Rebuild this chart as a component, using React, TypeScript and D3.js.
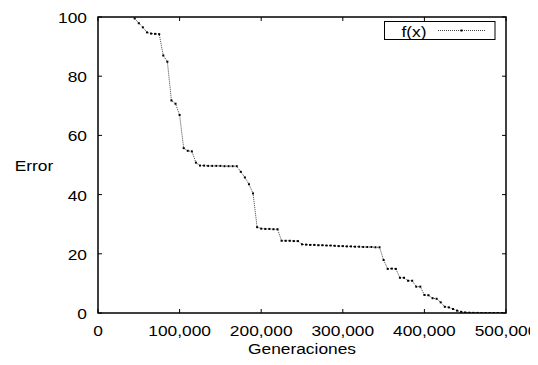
import React, { useEffect, useRef } from 'react';
import * as d3 from 'd3';

// generaciones (eje x), muestreadas cada 5,000
const generations = [
  0, 5000, 10000, 15000, 20000, 25000, 30000, 35000, 40000, 45000,
  50000, 55000, 60000, 65000, 70000, 75000, 80000, 85000, 90000, 95000,
  100000, 105000, 110000, 115000, 120000, 125000, 130000, 135000, 140000, 145000,
  150000, 155000, 160000, 165000, 170000, 175000, 180000, 185000, 190000, 195000,
  200000, 205000, 210000, 215000, 220000, 225000, 230000, 235000, 240000, 245000,
  250000, 255000, 260000, 265000, 270000, 275000, 280000, 285000, 290000, 295000,
  300000, 305000, 310000, 315000, 320000, 325000, 330000, 335000, 340000, 345000,
  350000, 355000, 360000, 365000, 370000, 375000, 380000, 385000, 390000, 395000,
  400000, 405000, 410000, 415000, 420000, 425000, 430000, 435000, 440000, 445000,
  450000, 455000, 460000, 465000, 470000, 475000, 480000, 485000, 490000, 495000,
  500000,
];

// error f(x) en cada generacion
const errors = [
  135, 128, 122, 117, 113, 110, 107, 104.5, 101.5, 99.5,
  97.9, 96.5, 94.8, 94.4, 94.3, 94.2, 87, 84.9, 71.8, 70.7,
  66.9, 55.7, 54.8, 54.6, 50.8, 49.8, 49.8, 49.7, 49.7, 49.7,
  49.7, 49.6, 49.6, 49.6, 49.6, 47.7, 45.8, 43.5, 40.4, 29,
  28.5, 28.4, 28.4, 28.3, 28.3, 24.4, 24.4, 24.4, 24.3, 24.3,
  23.2, 23.1, 23.0, 23.0, 22.9, 22.9, 22.8, 22.8, 22.7, 22.6,
  22.6, 22.5, 22.5, 22.4, 22.4, 22.3, 22.3, 22.3, 22.2, 22.2,
  17.9, 14.9, 15.0, 14.9, 11.9, 11.9, 10.9, 10.9, 8.9, 8.9,
  6.1, 6.0, 5.0, 4.8, 3.6, 2.1, 1.9, 1.35, 0.8, 0.4,
  0.2, 0.1, 0.05, 0.03, 0, 0, 0, 0, 0, 0,
  0,
];

const xTicks = [0, 100000, 200000, 300000, 400000, 500000];
const yTicks = [0, 20, 40, 60, 80, 100];

const App = () => {
  const svgRef = useRef(null);

  useEffect(() => {
    const width = 538;
    const height = 365;
    const font = '"Liberation Sans", Arial, sans-serif';
    const fs = 15.5;
    const stretch = 1.12;

    const svg = d3.select(svgRef.current);
    svg.selectAll('*').remove();
    svg.attr('width', width).attr('height', height);

    const x = d3.scaleLinear().domain([0, 500000]).range([98, 506]);
    const y = d3.scaleLinear().domain([0, 100]).range([313, 17]);

    const label = (tx, ty, text, anchor) => {
      svg.append('text')
        .attr('transform', `translate(${tx},${ty}) scale(${stretch},1)`)
        .attr('text-anchor', anchor)
        .attr('font-family', font)
        .attr('font-size', fs)
        .attr('fill', '#000')
        .text(text);
    };

    const fmt = d3.format(',');

    // ticks (inward, mirrored)
    const tickLen = 4;
    xTicks.forEach(t => {
      svg.append('line').attr('x1', x(t)).attr('x2', x(t)).attr('y1', y(0)).attr('y2', y(0) - tickLen)
        .attr('stroke', '#000');
      svg.append('line').attr('x1', x(t)).attr('x2', x(t)).attr('y1', y(100)).attr('y2', y(100) + tickLen)
        .attr('stroke', '#000');
      label(x(t), 336, fmt(t), 'middle');
    });
    yTicks.forEach(t => {
      svg.append('line').attr('x1', x(0)).attr('x2', x(0) + tickLen).attr('y1', y(t)).attr('y2', y(t))
        .attr('stroke', '#000');
      svg.append('line').attr('x1', x(500000)).attr('x2', x(500000) - tickLen).attr('y1', y(t)).attr('y2', y(t))
        .attr('stroke', '#000');
      label(87, y(t) + 6, String(t), 'end');
    });

    label(34, 170.5, 'Error', 'middle');
    label(302, 354, 'Generaciones', 'middle');

    // clip to plot area
    svg.append('clipPath').attr('id', 'plot-clip')
      .append('rect')
      .attr('x', x(0)).attr('y', y(100))
      .attr('width', x(500000) - x(0)).attr('height', y(0) - y(100));

    const pts = generations.map((g, i) => ({ g, e: errors[i] }));
    const line = d3.line().x(d => x(d.g)).y(d => y(d.e));

    const plot = svg.append('g').attr('clip-path', 'url(#plot-clip)');
    plot.append('path')
      .datum(pts)
      .attr('d', line)
      .attr('fill', 'none')
      .attr('stroke', '#444')
      .attr('stroke-width', 1)
      .attr('stroke-dasharray', '1,1');

    plot.selectAll('.pt')
      .data(pts.filter(d => d.e <= 100))
      .enter().append('rect')
      .attr('class', 'pt')
      .attr('x', d => x(d.g) - 1)
      .attr('y', d => y(d.e) - 1)
      .attr('width', 2)
      .attr('height', 2)
      .attr('fill', '#000');

    // border
    svg.append('rect')
      .attr('x', x(0)).attr('y', y(100))
      .attr('width', x(500000) - x(0)).attr('height', y(0) - y(100))
      .attr('fill', 'none').attr('stroke', '#000').attr('stroke-width', 1.5);

    // legend
    svg.append('rect')
      .attr('x', 384.5).attr('y', 21.5).attr('width', 110.5).attr('height', 18)
      .attr('fill', '#fff').attr('stroke', '#000').attr('stroke-width', 1);
    label(414, 36.5, 'f(x)', 'middle');
    svg.append('line')
      .attr('x1', 438).attr('x2', 485).attr('y1', 30.5).attr('y2', 30.5)
      .attr('stroke', '#444').attr('stroke-dasharray', '1,1');
    svg.append('rect').attr('x', 460.5).attr('y', 29.5).attr('width', 2).attr('height', 2).attr('fill', '#000');
  }, []);

  return (
    <div style={{ margin: -8 }}>
      <svg ref={svgRef} style={{ display: 'block' }}></svg>
    </div>
  );
};

export default App;
